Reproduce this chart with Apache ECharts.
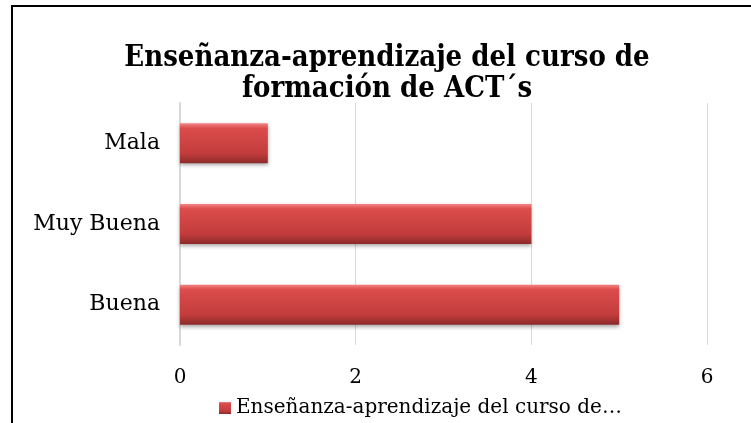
<!DOCTYPE html>
<html>
<head>
<meta charset="utf-8">
<script src="https://cdn.jsdelivr.net/npm/echarts@6/dist/echarts.min.js"></script>
<style>
  html, body { margin: 0; padding: 0; background: #fff; }
  #chart { width: 751px; height: 423px; }
</style>
</head>
<body>
<div id="chart"></div>
<script>
var categories = ['Buena', 'Muy Buena', 'Mala'];
var values = [5, 4, 1];
var seriesName = 'Enseñanza-aprendizaje del curso de formación de ACT´s';
var xTicks = [0, 2, 4, 6];

var chart = echarts.init(document.getElementById('chart'));
var serif = '"DejaVu Serif", "Liberation Serif", serif';

chart.setOption({
  animation: false,
  title: {
    text: 'Enseñanza-aprendizaje del curso de\nformación de ACT´s',
    left: 382,
    textAlign: 'center',
    top: 38,
    textStyle: {
      fontFamily: '"DejaVu Serif Condensed", "DejaVu Serif", serif',
      fontWeight: 'bold',
      fontSize: 29,
      lineHeight: 31,
      color: '#000'
    }
  },
  graphic: [{
    type: 'rect',
    shape: { x: 12, y: 6, width: 800, height: 500 },
    style: { fill: 'none', stroke: '#000', lineWidth: 2 },
    silent: true
  }],
  legend: {
    left: 214,
    top: 393,
    itemWidth: 12,
    itemHeight: 12,
    itemGap: 5,
    icon: 'rect',
    textStyle: {
      fontFamily: serif,
      fontSize: 20,
      color: '#000',
      width: 388,
      overflow: 'truncate',
      ellipsis: '…'
    }
  },
  grid: { left: 180, right: 44, top: 103, bottom: 78 },
  xAxis: {
    type: 'value',
    min: xTicks[0],
    max: xTicks[xTicks.length - 1],
    interval: 2,
    axisLine: { show: false },
    axisTick: { show: false },
    splitLine: { lineStyle: { color: '#d9d9d9', width: 1 } },
    axisLabel: { fontFamily: serif, fontSize: 20, color: '#000', margin: 23 }
  },
  yAxis: {
    type: 'category',
    data: categories,
    axisLine: { lineStyle: { color: '#d9d9d9', width: 2 } },
    axisTick: { show: false },
    axisLabel: { fontFamily: serif, fontSize: 22, color: '#000', margin: 20 }
  },
  series: [{
    name: seriesName,
    type: 'bar',
    data: values,
    barWidth: 40,
    itemStyle: {
      color: new echarts.graphic.LinearGradient(0, 0, 0, 1, [
        { offset: 0, color: '#f58585' },
        { offset: 0.12, color: '#dc4c4c' },
        { offset: 0.75, color: '#c23c3c' },
        { offset: 1, color: '#8c2a2a' }
      ]),
      shadowColor: 'rgba(0,0,0,0.35)',
      shadowBlur: 4,
      shadowOffsetY: 2
    }
  }]
});
</script>
</body>
</html>
